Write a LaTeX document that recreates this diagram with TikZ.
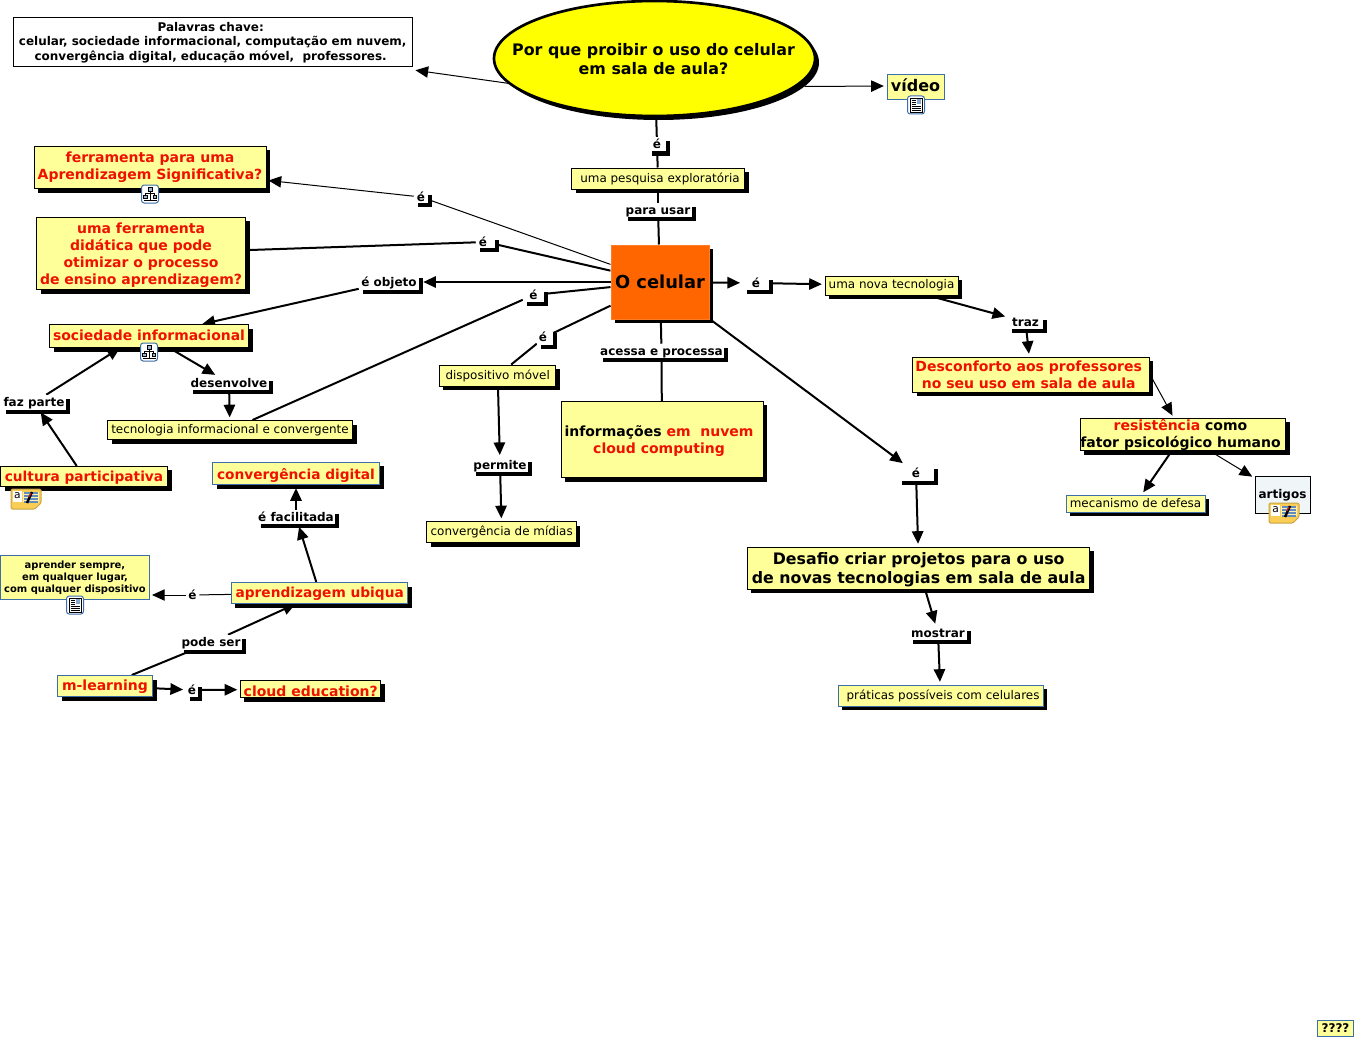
\documentclass[tikz,border=0pt]{standalone}
\usepackage{fontspec}
\setmainfont{DejaVu Sans}
\usepackage{tikz}
\usetikzlibrary{arrows.meta,backgrounds,shadows,shapes.geometric}
\definecolor{ConceptYellow}{RGB}{255,255,153}
\definecolor{QuestionYellow}{RGB}{255,255,0}
\definecolor{ConceptRed}{RGB}{238,17,0}
\definecolor{ConceptBlue}{RGB}{60,110,170}
\definecolor{CellOrange}{RGB}{255,102,0}
\definecolor{PaleBlue}{RGB}{240,245,248}
\definecolor{NoteGold}{RGB}{250,205,85}
\definecolor{NoteCream}{RGB}{255,240,180}
\newcommand{\fpx}[2]{\fontsize{#1}{#2}\selectfont}
\newcommand{\hl}[1]{\textcolor{ConceptRed}{#1}}
\tikzset{
  boxsize/.style 2 args={minimum width=#1*0.75pt, minimum height=#2*0.75pt},
  blackshadow/.style={drop shadow={shadow xshift=3pt, shadow yshift=-3pt, fill=black, opacity=1}},
  flatbox/.style={draw=black, line width=0.75pt, fill=ConceptYellow, inner sep=0pt, align=center, font=\bfseries\fpx{10.5}{12.75}, text=ConceptRed},
  concept/.style={flatbox, blackshadow},
  bluebox/.style={draw=ConceptBlue},
  smallred/.style={font=\bfseries\fpx{10.3}{12}, text height=#1},
  plainbox/.style={concept, font=\fpx{8.95}{11}, text=black},
  linklabel/.style={fill=white, inner sep=0pt, font=\bfseries\fpx{9}{11}, text=black, text height=7.5pt, text depth=1.5pt, blackshadow},
  link/.style={line width=1.5pt},
  thinlink/.style={line width=0.75pt},
  arr/.style={-{Triangle[length=9.5pt,width=8.5pt]}, shorten >=2pt},
  iconframe/.style={draw=ConceptBlue, line width=0.75pt, fill=white, rounded corners=2pt},
  mapicon/.pic={
    \draw[iconframe] (-8.5,-9) rectangle (8.5,9);
    \draw[black, line width=0.6pt, fill=ConceptBlue!50] (-2,-7) rectangle (2,-3) (-6.5,1) rectangle (-3,4.5) (3,1) rectangle (6.5,4.5);
    \draw[black, line width=0.6pt] (0,-3) -- (0,6) (-4.5,1) -- (-4.5,-1) -- (4.5,-1) -- (4.5,1) (-6.5,6.5) -- (6.5,6.5);
  },
  docicon/.pic={
    \draw[iconframe] (-8.5,-9) rectangle (8.5,9);
    \draw[black, line width=0.6pt, fill=white] (-5.5,-7) rectangle (6,7);
    \fill[ConceptBlue!60] (0.5,-6) rectangle (5,-1);
    \foreach \y in {-5,-3,-1} \draw[black, line width=0.7pt] (-4.5,\y) -- (-0.5,\y);
    \foreach \y in {1,3,5} \draw[black, line width=0.7pt] (-4.5,\y) -- (4.5,\y);
  },
  noteicon/.pic={
    \draw[draw=NoteGold!80!black, line width=0.75pt, fill=NoteGold, rounded corners=1pt] (-15,-10) -- (15,-10) -- (15,4) -- (9,10) -- (-15,10) -- cycle;
    \fill[NoteCream] (-3,-7) rectangle (13,3);
    \fill[white] (-13,-8) rectangle (-4,3);
    \node[inner sep=0pt, font=\fpx{8}{8}] at (-8.5,-3) {a};
    \foreach \y in {-6,-3,0,3} \draw[ConceptBlue!80, line width=0.8pt] (-2,\y) -- (12,\y);
    \draw[black, line width=1.8pt] (1,4) -- (6,-7);
    \draw[ConceptRed, line width=0.8pt] (3,-2) -- (5,-6);
  },
}
\begin{document}
\begin{tikzpicture}[x=0.75pt, y=-0.75pt]
  \useasboundingbox (0,0) rectangle (1358,1038);

  % Top of the map
  \node[draw=black, line width=2pt, fill=QuestionYellow, ellipse, inner sep=0pt, boxsize={321}{115}, blackshadow] (question) at (654.5,58.5) {};
  \node[inner sep=0pt, align=center, font=\bfseries\fpx{11.9}{14.25}] (questiontext) at (653.5,59.5) {Por que proibir o uso do celular\\em sala de aula?};
  \node[draw=black, fill=white, inner sep=0pt, boxsize={399}{49}, align=center, font=\bfseries\fpx{8.98}{10.9}, text depth=0.5pt] (keywords) at (212.7,41.5) {Palavras chave:\hspace*{3pt}\\celular, sociedade informacional, computação em nuvem,\hspace*{3pt}\\convergência digital, educação móvel,\ \ professores.\hspace*{3pt}};
  \node[flatbox, bluebox, boxsize={57}{25}, font=\bfseries\fpx{12}{15}, text=black, text depth=3pt] (video) at (915.5,87.5) {vídeo};
  \node[plainbox, boxsize={173}{21}] (survey) at (658,178.5) {\hspace*{3pt}uma pesquisa exploratória};
  \node[concept, draw=CellOrange!85, fill=CellOrange, boxsize={98}{74}, font=\bfseries\fpx{13.4}{16}, text=black] (phone) at (660,282) {O celular};

  % Left branch
  \node[concept, boxsize={232}{42.5}, text depth=3.5pt] (meaningful) at (150,167.7) {ferramenta para uma\\Aprendizagem Significativa?};
  \node[concept, boxsize={209}{72.5}, text depth=0.5pt] (didactic) at (141,253.7) {uma ferramenta\\didática que pode\\otimizar o processo\\de ensino aprendizagem?};
  \node[concept, boxsize={199}{23}, font=\bfseries\fpx{10.45}{12}, text depth=1.5pt] (society) at (149,336) {sociedade informacional};
  \node[plainbox, boxsize={245}{19}] (infotech) at (230,430) {tecnologia informacional e convergente};
  \node[concept, smallred=9.5pt, boxsize={167}{20.5}] (culture) at (84,476.7) {cultura participativa};
  \node[concept, bluebox, smallred=11pt, boxsize={167}{22.5}] (digital) at (296,473.7) {convergência digital};
  \node[flatbox, bluebox, boxsize={149}{44.5}, font=\bfseries\fpx{7.47}{9.2}, text=black] (always) at (75,577.7) {aprender sempre,\\em qualquer lugar,\\com qualquer dispositivo};
  \node[concept, bluebox, smallred=9.5pt, boxsize={176.5}{21}] (ubiquitous) at (319.7,593) {aprendizagem ubiqua};
  \node[concept, bluebox, text height=9.5pt, boxsize={95}{21}] (mlearning) at (105,686) {m-learning};
  \node[concept, text height=11pt, boxsize={140.5}{17.5}] (cloud) at (310.7,689.2) {cloud education?};

  % Middle branch
  \node[plainbox, boxsize={116.5}{21}] (mobile) at (497.7,375.5) {dispositivo móvel};
  \node[plainbox, boxsize={149.5}{21}] (media) at (501.7,532) {convergência de mídias};
  \node[concept, boxsize={202}{76.5}, text=black, text depth=0pt] (info) at (662,439.7) {informações \hl{em\ \ nuvem}\hspace*{4.5pt}\\\hl{cloud computing}\hspace*{4.5pt}};

  % Right branch
  \node[plainbox, boxsize={133}{19}] (newtech) at (891.5,285.5) {uma nova tecnologia};
  \node[concept, boxsize={236.5}{35}] (discomfort) at (1031.2,374.5) {Desconforto aos professores\hspace*{3.75pt}\\no seu uso em sala de aula\hspace*{3.75pt}};
  \node[concept, boxsize={205}{32.5}, text=black] (resistance) at (1183,434.7) {\hl{resistência} como\hspace*{3.75pt}\\fator psicológico humano\hspace*{3.75pt}};
  \node[plainbox, bluebox, boxsize={139}{17}] (defense) at (1135.5,503.5) {mecanismo de defesa};
  \node[flatbox, fill=PaleBlue, boxsize={55}{37}, font=\bfseries\fpx{9}{11}, text=black] (papers) at (1282.5,495) {artigos};
  \node[concept, boxsize={342.5}{42}, font=\bfseries\fpx{11.85}{14.25}, text=black, text depth=0pt] (challenge) at (918.7,568) {Desafio criar projetos para o uso\\de novas tecnologias em sala de aula};
  \node[plainbox, bluebox, boxsize={205}{21}] (practices) at (940.5,695.5) {\hspace*{3.75pt}práticas possíveis com celulares};
  \node[flatbox, bluebox, boxsize={36}{16}, font=\bfseries\fpx{9}{11}, text=black] (unknown) at (1335.5,1028) {????};

  % Link labels
  \node[linklabel, boxsize={18}{14}] (isSurvey) at (657,144.5) {é};
  \node[linklabel, boxsize={68}{14}] (touse) at (658,210) {para usar};
  \node[linklabel, boxsize={14}{12}] (isMeaningful) at (421,197) {é};
  \node[linklabel, boxsize={19}{12}] (isDidactic) at (485.5,242) {\hspace*{-4pt}é};
  \node[linklabel, boxsize={60}{16}] (isObject) at (389,282) {é objeto};
  \node[linklabel, boxsize={21}{14}] (isInfotech) at (533.5,295) {é};
  \node[linklabel, boxsize={16}{16}] (isMobile) at (545,337) {\hspace*{-3pt}é};
  \node[linklabel, boxsize={125}{14}] (accesses) at (661.5,351) {acessa e processa};
  \node[linklabel, boxsize={26}{14}] (isNewtech) at (756,283) {é};
  \node[linklabel, boxsize={35}{13}] (brings) at (1025.5,322) {traz};
  \node[linklabel, boxsize={36}{16}] (isChallenge) at (916,473) {é};
  \node[linklabel, boxsize={58}{13}] (toshow) at (938,633) {mostrar};
  \node[linklabel, boxsize={56}{14}] (allows) at (500,465) {permite};
  \node[linklabel, boxsize={80}{13}] (develops) at (229,383) {desenvolve};
  \node[linklabel, boxsize={64}{15}] (ispart) at (34,402.5) {faz parte};
  \node[linklabel, boxsize={78}{14}] (eased) at (296,517) {é facilitada};
  \node[fill=white, inner sep=0pt, boxsize={13}{14}, font=\bfseries\fpx{9}{11}] (isAlways) at (192.5,595) {é};
  \node[linklabel, boxsize={62}{15}] (canbe) at (211,642.5) {pode ser};
  \node[linklabel, boxsize={12}{14}] (isCloud) at (192,690) {é};

  % Icons under the boxes
  \pic at (150,194) {mapicon};
  \pic at (149,352) {mapicon};
  \pic at (916,105) {docicon};
  \pic at (75,605) {docicon};
  \pic at (26,499) {noteicon};
  \pic at (1284,513) {noteicon};

  % Connectors go behind the boxes
  \begin{scope}[on background layer]
    \draw[thinlink, arr, shorten >=0pt] ([shift={(-145,25)}]question.center) -- ([shift={(3,4)}]keywords.south east);
    \draw[thinlink, arr] ([shift={(150,28)}]question.center) -- ([shift={(0,-1.5)}]video.west);
    \draw[link] (question) -- (isSurvey);
    \draw[link] (isSurvey) -- (survey);
    \draw[link] (survey) -- (touse);
    \draw[link] (touse) -- (phone);
    \draw[thinlink] (phone) -- (isMeaningful);
    \draw[thinlink, arr, shorten >=1.5pt] (isMeaningful) -- (meaningful);
    \draw[link] (phone) -- (isDidactic);
    \draw[link] (isDidactic) -- (didactic);
    \draw[link, arr, shorten >=3pt] (phone) -- (isObject);
    \draw[link, arr, shorten >=0pt] (isObject) -- (society);
    \draw[link] (phone) -- (isInfotech);
    \draw[link] (isInfotech) -- (infotech);
    \draw[link] (phone) -- (isMobile);
    \draw[link] (isMobile) -- (mobile);
    \draw[link, arr] (mobile) -- (allows);
    \draw[link, arr] (allows) -- (media);
    \draw[link] (phone) -- (accesses);
    \draw[link] (accesses) -- (info);
    \draw[link, arr] (phone) -- (isNewtech);
    \draw[link, arr] (isNewtech) -- (newtech);
    \draw[link, arr] (newtech) -- (brings);
    \draw[link, arr] (brings) -- (discomfort);
    \draw[thinlink, arr] (discomfort.east) -- (resistance);
    \draw[link, arr] (resistance) -- (defense);
    \draw[thinlink, arr] (resistance) -- (papers);
    \draw[link, arr] (phone) -- (isChallenge);
    \draw[link, arr] (isChallenge) -- (challenge);
    \draw[link, arr] (challenge) -- (toshow);
    \draw[link, arr] (toshow) -- (practices);
    \draw[link, arr] (society) -- (develops);
    \draw[link, arr] (develops) -- (infotech);
    \draw[link, arr] (culture) -- (ispart);
    \draw[link, arr, shorten >=0pt] (ispart) -- ([shift={(71,0)}]society.south west);
    \draw[link, arr] (ubiquitous) -- (eased);
    \draw[link, arr] (eased) -- (digital);
    \draw[thinlink] (ubiquitous) -- (isAlways);
    \draw[thinlink, arr, shorten >=1.5pt] (isAlways) -- (always.east |- isAlways);
    \draw[link] (mlearning) -- (canbe);
    \draw[link, arr, shorten >=0pt] (canbe) -- (ubiquitous);
    \draw[link, arr] (mlearning) -- (isCloud);
    \draw[link, arr] (isCloud) -- (cloud);
  \end{scope}
\end{tikzpicture}
\end{document}
